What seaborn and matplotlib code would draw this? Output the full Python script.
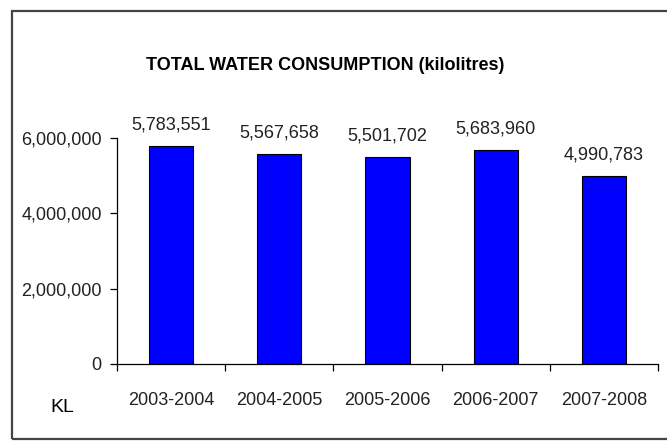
import matplotlib
matplotlib.use("Agg")
import matplotlib.pyplot as plt
import matplotlib.ticker as mticker
from matplotlib.patches import Rectangle
import seaborn as sns
import pandas as pd

years = ["2003-2004", "2004-2005", "2005-2006", "2006-2007", "2007-2008"]
consumption = [5783551, 5567658, 5501702, 5683960, 4990783]
y_ticks = [0, 2000000, 4000000, 6000000]
title = "TOTAL WATER CONSUMPTION (kilolitres)"
unit_label = "KL"

sns.set_theme(style="white")
plt.rcParams["font.family"] = ["Liberation Sans", "DejaVu Sans"]

df = pd.DataFrame({"year": years, "kl": consumption})

fig = plt.figure(figsize=(6.67, 4.46), dpi=100)
ax = fig.add_axes([117/667, 1 - 364/446, (658-117)/667, (364-138)/446])

sns.barplot(data=df, x="year", y="kl", color="#0000ff", saturation=1,
            edgecolor="black", linewidth=0.8, width=0.41, ax=ax)
for p in ax.patches:
    p.set_facecolor("#0000ff")

ax.set_xlim(-0.5, len(years) - 0.5)
ax.set_ylim(0, 6000000)
ax.set_yticks(y_ticks)
ax.yaxis.set_major_formatter(mticker.FuncFormatter(lambda v, p: f"{int(v):,}"))
ax.set_xlabel("")
ax.set_ylabel("")

for s in ["top", "right"]:
    ax.spines[s].set_visible(False)
for s in ["left", "bottom"]:
    ax.spines[s].set_color("black")
    ax.spines[s].set_linewidth(0.9)

ax.tick_params(axis="y", which="major", direction="out", length=5, width=0.9,
               color="black", labelsize=13, labelcolor="#222222", pad=6, left=True)
ax.tick_params(axis="x", which="major", length=0, labelsize=13, labelcolor="#222222", pad=20)
ax.set_xticks([i - 0.5 for i in range(len(years) + 1)], minor=True)
ax.tick_params(axis="x", which="minor", direction="out", length=5, width=0.9,
               color="black", bottom=True)

for i, v in enumerate(consumption):
    ax.annotate(f"{v:,}", xy=(i, v), xytext=(0, 9), textcoords="offset points",
                ha="center", va="bottom", fontsize=13, color="#222222")

fig.text(325/667, 1 - 65/446, title, ha="center", va="center",
         fontsize=13, fontweight="bold", color="black")
fig.text(62/667, 1 - 408/446, unit_label, ha="center", va="center",
         fontsize=14, color="black")

fig.patches.append(Rectangle((12/667, 1 - 439/446), (700-12)/667, (439-11)/446,
                             transform=fig.transFigure, fill=False,
                             edgecolor="#444444", linewidth=1.6))

fig.savefig("out.png", dpi=100)
